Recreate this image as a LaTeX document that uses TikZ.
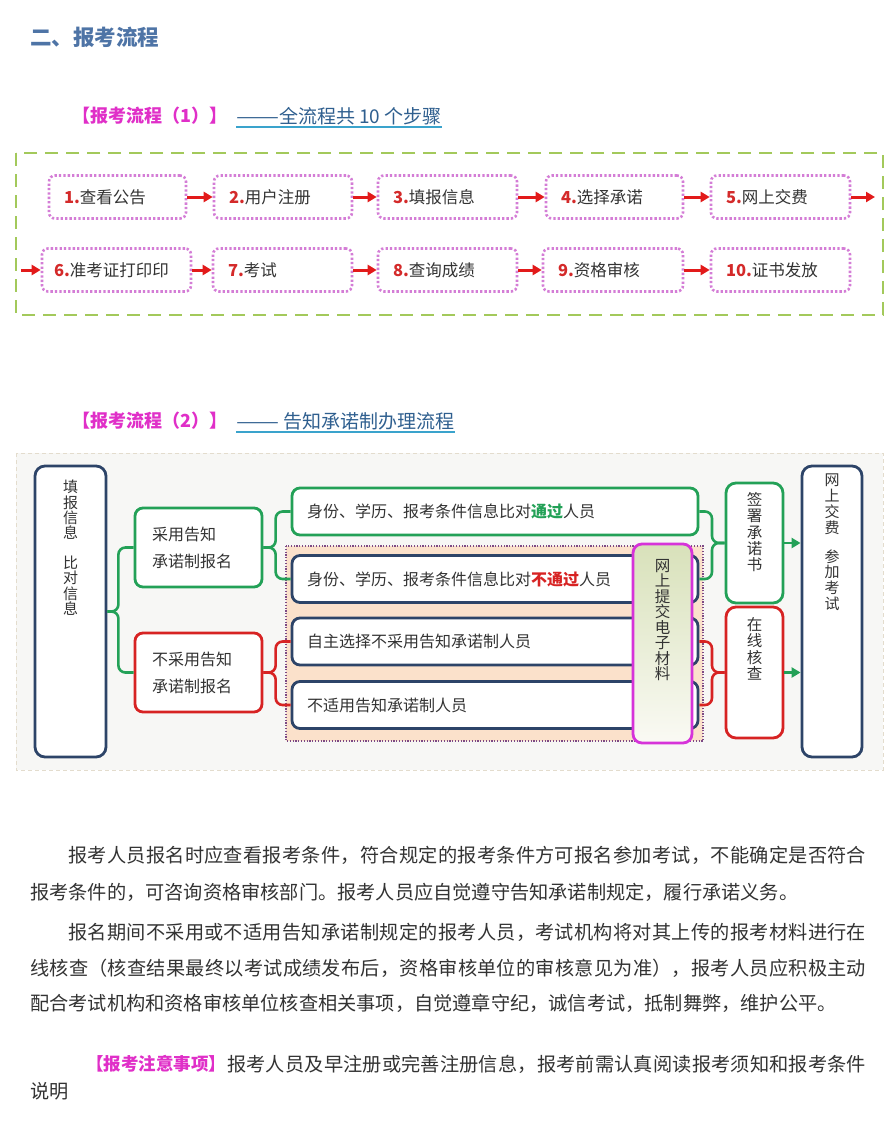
\documentclass[tikz,border=0pt]{standalone}
\usepackage{fontspec}
\usepackage{graphicx}
\setmainfont{Noto Sans CJK SC}
\usetikzlibrary{calc,arrows.meta}
\definecolor{titleblue}{HTML}{4E74A6}
\definecolor{mag}{HTML}{E02FC8}
\definecolor{hdrtext}{HTML}{2F5F8F}
\definecolor{uline}{HTML}{3AA3CC}
\definecolor{framegreen}{HTML}{A3C95B}
\definecolor{dotpink}{HTML}{D47DD6}
\definecolor{stepred}{HTML}{D42A2A}
\definecolor{arrowred}{HTML}{E21A1A}
\definecolor{txt}{HTML}{333333}
\definecolor{gr}{HTML}{23A157}
\definecolor{rd}{HTML}{D72323}
\definecolor{navy}{HTML}{2D4468}
\definecolor{magbox}{HTML}{D633D9}
\definecolor{peach}{HTML}{FBE1CB}
\definecolor{panelline}{HTML}{7D4A85}
\definecolor{frametwo}{HTML}{E3DCCD}
\definecolor{bgtwo}{HTML}{F7F7F5}
\definecolor{magtop}{HTML}{D8E1BA}
\definecolor{magbot}{HTML}{FAFAF4}
\makeatletter
\newcommand\spreadline[2]{\makebox[#1][s]{\def\sp@first{1}\@tfor\sp@c:=#2\do{\ifx\sp@first\@empty\hfil\fi\sp@c\def\sp@first{}}}}
\makeatother
\newcommand\longdash{\scalebox{1.35}[1]{——}}
\begin{document}
\begin{tikzpicture}[x=1pt,y=-1pt,
  hdrA/.style={anchor=west, inner sep=0, font=\fontsize{18}{20}\selectfont\bfseries, text=mag},
  hdrB/.style={anchor=west, inner sep=0, font=\fontsize{19}{20}\selectfont, text=hdrtext},
  ul/.style={uline, line width=2.5pt},
  stepbox/.style={draw=dotpink, line width=2.6pt, dash pattern=on 2.3pt off 2.1pt,
    rounded corners=6pt, fill=white, minimum height=43pt, inner xsep=15pt, text width=#1,
    align=left, font=\fontsize{16.5}{18}\selectfont, text=txt},
  arr/.style={-{Triangle[length=9pt,width=10pt]}, arrowred, line width=3pt},
  box/.style={draw=#1, line width=2.8pt, rounded corners=8pt, fill=white, text=txt,
    font=\fontsize{16}{27}\selectfont, align=left},
  tall/.style={draw=#1, line width=2.8pt, rounded corners=10pt, fill=white},
  vtext/.style={align=center, inner sep=0, anchor=north, text=txt},
  gline/.style={gr, line width=2.6pt, rounded corners=7pt},
  rline/.style={rd, line width=2.6pt, rounded corners=7pt},
  garr/.style={-{Triangle[length=9pt,width=10pt]}, gr, line width=2.6pt},
  para/.style={anchor=west, inner sep=0, text=txt, font=\fontsize{19.2}{22}\selectfont}
]
\useasboundingbox[fill=white] (0,0) rectangle (890,1143);

% title
\node[anchor=west, inner sep=0, font=\fontsize{21.5}{24}\selectfont\bfseries, text=titleblue] (title) at (30,37) {二、报考流程};

% header 1
\node[hdrA] (h1a) at (72,116) {【报考流程（1）】};
\node[hdrB] (h1b) at (236,116) {\longdash 全流程共 10 个步骤};
\draw[ul] ($(h1b.south west)+(0,2)$) -- ($(h1b.south east)+(0,2)$);

% frame 1
\draw[framegreen, line width=2.5pt, dash pattern=on 13pt off 8pt] (16,153) rectangle (883,315);

\node[stepbox=107pt] (s1) at (117.5,197) {\textcolor{stepred}{\bfseries 1.}查看公告};
\node[stepbox=108pt] (s2) at (283,197) {\textcolor{stepred}{\bfseries 2.}用户注册};
\node[stepbox=109pt] (s3) at (447.5,197) {\textcolor{stepred}{\bfseries 3.}填报信息};
\node[stepbox=107pt] (s4) at (614.5,197) {\textcolor{stepred}{\bfseries 4.}选择承诺};
\node[stepbox=109pt] (s5) at (780.5,197) {\textcolor{stepred}{\bfseries 5.}网上交费};
\node[stepbox=125pt, inner xsep=12pt] (s6) at (116.5,270) {\textcolor{stepred}{\bfseries 6.}准考证打印印};
\node[stepbox=109pt] (s7) at (282.5,270) {\textcolor{stepred}{\bfseries 7.}考试};
\node[stepbox=109pt] (s8) at (447.5,270) {\textcolor{stepred}{\bfseries 8.}查询成绩};
\node[stepbox=110pt] (s9) at (613,270) {\textcolor{stepred}{\bfseries 9.}资格审核};
\node[stepbox=109pt] (s10) at (780.5,270) {\textcolor{stepred}{\bfseries 10.}证书发放};

\coordinate (c5) at (875,197);
\coordinate (c6) at (21,270);
\draw[arr] (s1) -- (s2);
\draw[arr] (s2) -- (s3);
\draw[arr] (s3) -- (s4);
\draw[arr] (s4) -- (s5);
\draw[arr] (s5.east) -- (c5);
\draw[arr] (c6) -- (s6.west);
\draw[arr] (s6) -- (s7);
\draw[arr] (s7) -- (s8);
\draw[arr] (s8) -- (s9);
\draw[arr] (s9) -- (s10);

% header 2
\node[hdrA] (h2a) at (72,421) {【报考流程（2）】};
\node[hdrB] (h2b) at (236,421) {\longdash\ 告知承诺制办理流程};
\draw[ul] ($(h2b.south west)+(0,2)$) -- ($(h2b.south east)+(0,2)$);

% frame 2
\draw[frametwo, fill=bgtwo, line width=1pt, dash pattern=on 4pt off 3pt] (16,453) rectangle (883,770);

% panel
\draw[panelline, fill=peach, line width=1.2pt, dash pattern=on 1.2pt off 1.6pt] (286,546) rectangle (703,741);

% left box
\node[tall=navy, minimum width=71pt, minimum height=291pt] (lb) at (70.5,611.5) {};
\node[vtext, font=\fontsize{15}{15.4}\selectfont] (lbt) at (70.5,480) {填\\报\\信\\息\\[14pt]比\\对\\信\\息};

% second column
\node[box=gr, minimum width=127pt, minimum height=79pt, text width=93pt, inner xsep=17pt] (g1) at (198.5,547.5) {采用告知\\承诺制报名};
\node[box=rd, minimum width=127pt, minimum height=79pt, text width=93pt, inner xsep=17pt] (r1) at (198.5,672.5) {不采用告知\\承诺制报名};

% third column
\node[box=gr, minimum width=406pt, minimum height=47pt, text width=376pt, inner xsep=15pt] (t1) at (495,511.5) {身份、学历、报考条件信息比对\textcolor{gr}{\bfseries 通过}人员};
\node[box=navy, minimum width=406pt, minimum height=47pt, text width=376pt, inner xsep=15pt] (t2) at (495,579) {身份、学历、报考条件信息比对\textcolor{rd}{\bfseries 不通过}人员};
\node[box=navy, minimum width=406pt, minimum height=47pt, text width=376pt, inner xsep=15pt] (t3) at (495,641.5) {自主选择不采用告知承诺制人员};
\node[box=navy, minimum width=406pt, minimum height=47pt, text width=376pt, inner xsep=15pt] (t4) at (495,705) {不适用告知承诺制人员};

% fourth column
\node[tall=gr, minimum width=57pt, minimum height=120pt] (sg) at (754.5,543) {};
\node[vtext, font=\fontsize{15.5}{16.4}\selectfont] (sgt) at (754.5,492) {签\\署\\承\\诺\\书};
\node[tall=rd, minimum width=57pt, minimum height=131pt] (zx) at (754.5,672.5) {};
\node[vtext, font=\fontsize{15.5}{16.4}\selectfont] (zxt) at (754.5,617) {在\\线\\核\\查};

% right box
\node[tall=navy, minimum width=60pt, minimum height=291pt] (rb) at (832,611.5) {};
\node[vtext, font=\fontsize{15}{15.8}\selectfont] (rbt) at (832,474) {网\\上\\交\\费\\[13pt]参\\加\\考\\试};

% braces
\draw[gline] (lb.east) -- ($(lb.east)!.42!(lb.east -| g1.west)$) |- (g1.west);
\draw[gline] (lb.east) -- ($(lb.east)!.42!(lb.east -| r1.west)$) |- (r1.west);
\draw[gline] (g1.east) -- ($(g1.east)!.45!(g1.east -| t1.west)$) |- (t1.west);
\draw[gline] (g1.east) -- ($(g1.east)!.45!(g1.east -| t2.west)$) |- (t2.west);
\draw[rline] (r1.east) -- ($(r1.east)!.45!(r1.east -| t3.west)$) |- (t3.west);
\draw[rline] (r1.east) -- ($(r1.east)!.45!(r1.east -| t4.west)$) |- (t4.west);
\draw[gline] (t1.east) -- ($(t1.east)!.5!(t1.east -| sg.west)$) |- (sg.west);
\draw[gline] (t2.east) -- ($(t2.east)!.5!(t2.east -| sg.west)$) |- (sg.west);
\draw[rline] (t3.east) -- ($(t3.east)!.5!(t3.east -| zx.west)$) |- (zx.west);
\draw[rline] (t4.east) -- ($(t4.east)!.5!(t4.east -| zx.west)$) |- (zx.west);
\draw[garr] (sg.east) -- (sg.east -| rb.west);
\draw[garr] (zx.east) -- (zx.east -| rb.west);

% magenta box on top
\node[draw=magbox, line width=2.8pt, rounded corners=9pt, minimum width=59pt, minimum height=199pt,
  top color=magtop, bottom color=magbot] (mb) at (662.5,643.5) {};
\node[vtext, font=\fontsize{15.5}{15.5}\selectfont] (mbt) at (662.5,559) {网\\上\\提\\交\\电\\子\\材\\料};

% paragraphs
\node[para] (p1) at (68,855) {\spreadline{798pt}{报考人员报名时应查看报考条件，符合规定的报考条件方可报名参加考试，不能确定是否符合}};
\node[para] (p2) at (30,892) {\spreadline{763pt}{报考条件的，可咨询资格审核部门。报考人员应自觉遵守告知承诺制规定，履行承诺义务。}};
\node[para] (p3) at (68,932) {\spreadline{798pt}{报名期间不采用或不适用告知承诺制规定的报考人员，考试机构将对其上传的报考材料进行在}};
\node[para] (p4) at (30,968) {\spreadline{836pt}{线核查（核查结果最终以考试成绩发布后，资格审核单位的审核意见为准），报考人员应积极主动}};
\node[para] (p5) at (30,1003) {\spreadline{805pt}{配合考试机构和资格审核单位核查相关事项，自觉遵章守纪，诚信考试，抵制舞弊，维护公平。}};
\node[hdrA, font=\fontsize{17.5}{20}\selectfont\bfseries] (n1) at (86,1064) {【报考注意事项】};
\node[para] (n2) at (227,1064) {\spreadline{639pt}{报考人员及早注册或完善注册信息，报考前需认真阅读报考须知和报考条件}};
\node[para] (n3) at (30,1091) {说明};
\end{tikzpicture}
\end{document}
